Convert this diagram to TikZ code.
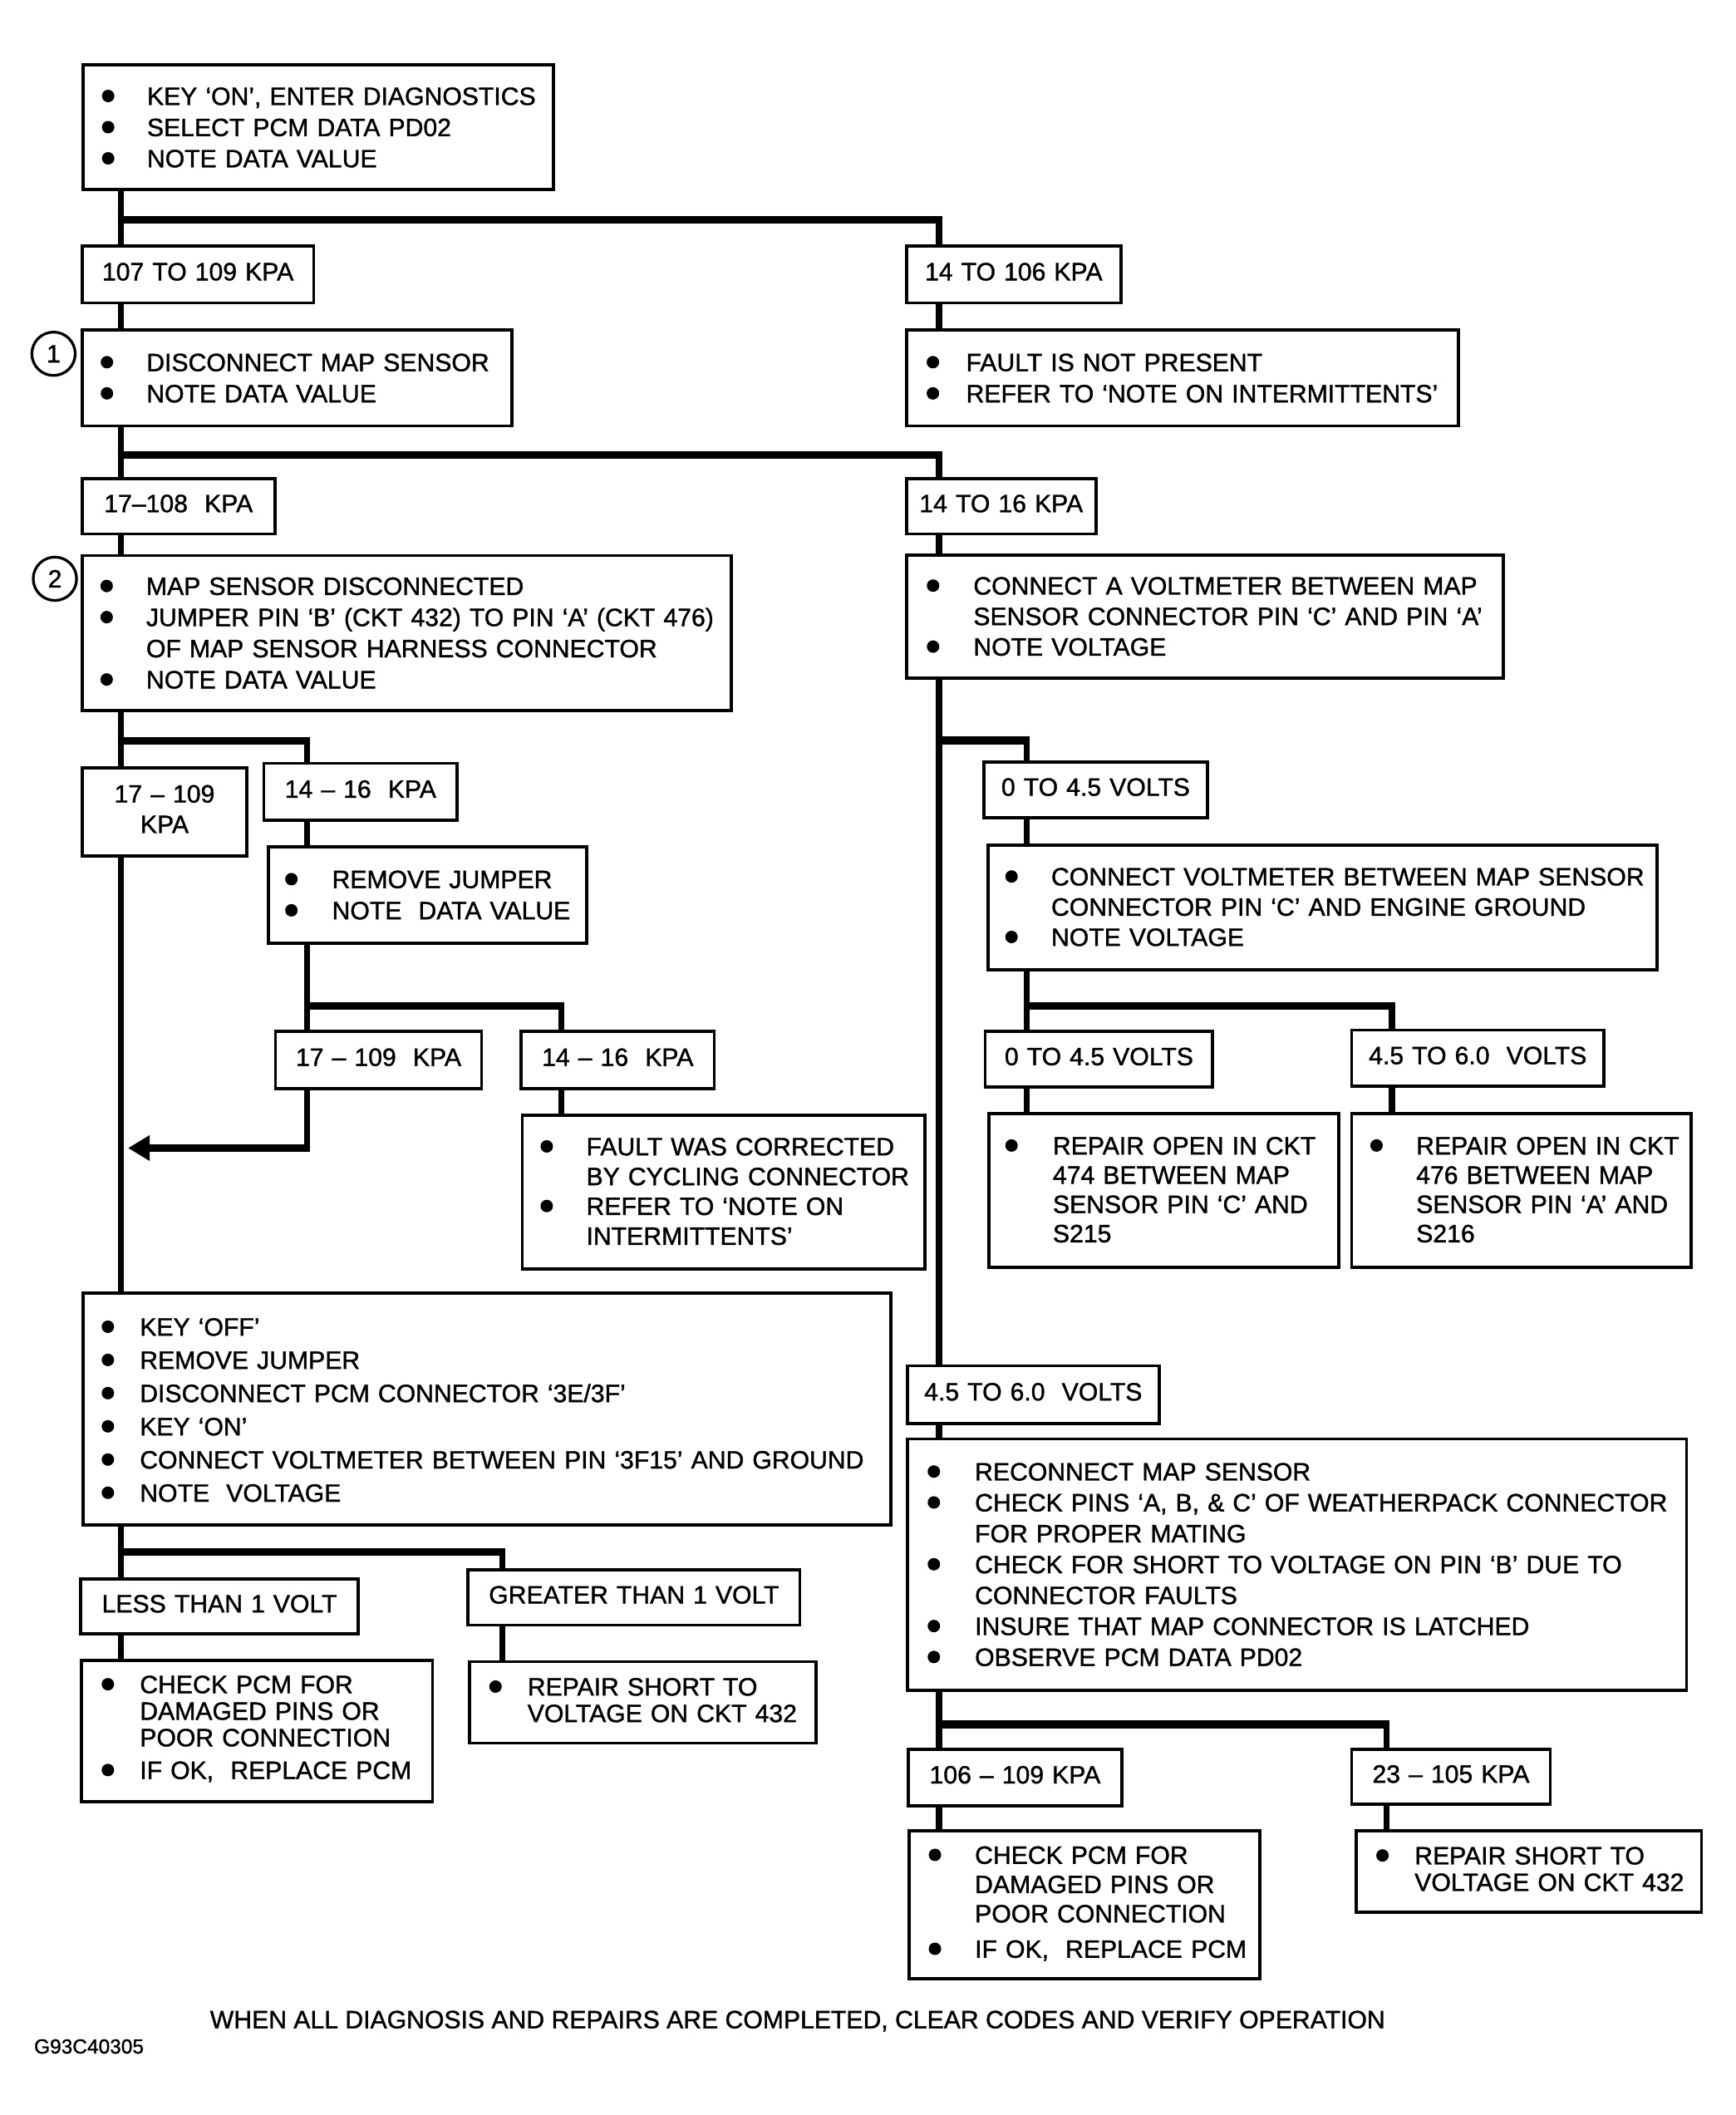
\documentclass[tikz,border=0pt]{standalone}
\usepackage{fontspec}
\setmainfont{Liberation Sans}[FakeBold=1.2]
\usetikzlibrary{arrows.meta}
\newlength\boff
\newlength\tind
\newcommand\mybul{\tikz[baseline=0pt]\fill (4.6pt,6.6pt) circle[radius=4.6pt];}
\newcommand\setb[2]{\setlength\boff{\dimexpr#1pt-4.6pt\relax}\setlength\tind{#2pt}}
\newcommand\bi[1]{\par\noindent\hangindent=\tind\hangafter=1\makebox[\tind][l]{\hspace*{\boff}\mybul}\mbox{#1}}
\newcommand\cl[1]{\newline\mbox{#1}}
\newcommand\fs[1]{\fontsize{18.5}{#1}\selectfont}
\newcommand\boxend{\par\vspace{10pt}\hrule height0pt width0pt}
\newcommand\labend{\par\vspace{4pt}\hrule height0pt width0pt}
\begin{document}
\begin{tikzpicture}[x=1pt,y=-1pt,
  box/.style={draw, line width=2.3pt, inner xsep=0pt, inner ysep=0pt, outer sep=0pt, anchor=north west, align=left, font=\fs{23},
    execute at end node=\boxend},
  lab/.style={draw, line width=2.3pt, inner xsep=0pt, inner ysep=0pt, outer sep=0pt, anchor=north west, align=center, font=\fs{22.5},
    execute at end node=\labend},
  vl/.style={line width=4.4pt},
  hb/.style={line width=5.6pt},
  num/.style={circle, draw, line width=2pt, minimum size=32pt, inner sep=0pt, font=\fs{20}}]
\path[fill=white] (0,0) rectangle (1280.2,1560.4);
\useasboundingbox (0,0) rectangle (1280.2,1560.4);

% ---------- boxes ----------
\node[box, text width=347pt, minimum height=92pt] (top) at (61.5,48)
  {\setb{18.3}{47}\bi{KEY ‘ON’, ENTER DIAGNOSTICS}\bi{SELECT PCM DATA PD02}\bi{NOTE DATA VALUE}\par};
\node[lab, text width=171pt, minimum height=42pt] (b107) at (60.5,181.5) {107 TO 109 KPA};
\node[lab, text width=158.4pt, minimum height=42pt] (b14106) at (668.7,181.5) {14 TO 106 KPA};
\node[box, text width=317pt, minimum height=70.6pt] (box1) at (60.5,243.6)
  {\setb{18.4}{47.6}\bi{DISCONNECT MAP SENSOR}\bi{NOTE DATA VALUE}\par};
\node[num] (c1) at (39.5,261) {1};
\node[box, text width=407.3pt, minimum height=70.6pt] (fault) at (668.7,243.6)
  {\setb{19.6}{44.1}\bi{FAULT IS NOT PRESENT}\bi{REFER TO ‘NOTE ON INTERMITTENTS’}\par};
\node[lab, text width=142.4pt, minimum height=41pt] (b17108) at (60.5,353) {17–108\ \ KPA};
\node[lab, text width=140pt, minimum height=41pt] (b1416) at (668.7,353) {14 TO 16 KPA};
\node[box, text width=479pt, minimum height=114.4pt] (box2) at (60.7,409.8)
  {\setb{18}{47.2}\bi{MAP SENSOR DISCONNECTED}\bi{JUMPER PIN ‘B’ (CKT 432) TO PIN ‘A’ (CKT 476)}\cl{OF MAP SENSOR HARNESS CONNECTOR}\bi{NOTE DATA VALUE}\par};
\node[num] (c2) at (40.5,427) {2};
\node[box, text width=440.3pt, minimum height=91pt, font=\fs{22.5}] (conn) at (669,409.5)
  {\setb{19.4}{49.2}\bi{CONNECT A VOLTMETER BETWEEN MAP}\cl{SENSOR CONNECTOR PIN ‘C’ AND PIN ‘A’}\bi{NOTE VOLTAGE}\par};
\node[lab, text width=121.4pt, minimum height=65pt] (b17109a) at (60.7,566.4) {17 – 109\\KPA};
\node[lab, text width=142.6pt, minimum height=42pt] (b1416a) at (194.7,563.2) {14 – 16\ \ KPA};
\node[box, text width=235pt, minimum height=71pt] (remj) at (197.9,624.8)
  {\setb{17.1}{47.1}\bi{REMOVE JUMPER}\bi{NOTE\ \ DATA VALUE}\par};
\node[lab, text width=152pt, minimum height=42pt] (b17109b) at (203.3,761) {17 – 109\ \ KPA};
\node[lab, text width=142.5pt, minimum height=42pt] (b1416b) at (384.5,761) {14 – 16\ \ KPA};
\node[box, text width=296.8pt, minimum height=113.7pt, font=\fs{22}] (fixed) at (385.4,822.6)
  {\setb{18}{47.2}\bi{FAULT WAS CORRECTED}\cl{BY CYCLING CONNECTOR}\bi{REFER TO ‘NOTE ON}\cl{INTERMITTENTS’}\par};
\node[lab, text width=164.7pt, minimum height=41pt] (v045a) at (726,562.2) {0 TO 4.5 VOLTS};
\node[box, text width=493.6pt, minimum height=91.6pt, font=\fs{22.3}] (cvm) at (728.8,623.7)
  {\setb{17.5}{46.8}\bi{CONNECT VOLTMETER BETWEEN MAP SENSOR}\cl{CONNECTOR PIN ‘C’ AND ENGINE GROUND}\bi{NOTE VOLTAGE}\par};
\node[lab, text width=167.8pt, minimum height=41pt] (v045b) at (726.9,761) {0 TO 4.5 VOLTS};
\node[lab, text width=186pt, minimum height=41.5pt] (v4560a) at (997.3,760) {4.5 TO 6.0\ \ VOLTS};
\node[box, text width=258pt, minimum height=113.6pt, font=\fs{21.6}] (r474) at (729.6,821.6)
  {\setb{16.7}{47.2}\bi{REPAIR OPEN IN CKT}\cl{474 BETWEEN MAP}\cl{SENSOR PIN ‘C’ AND}\cl{S215}\par};
\node[box, text width=250.5pt, minimum height=113.6pt, font=\fs{21.6}] (r476) at (997.3,821.6)
  {\setb{18.3}{47.6}\bi{REPAIR OPEN IN CKT}\cl{476 BETWEEN MAP}\cl{SENSOR PIN ‘A’ AND}\cl{S216}\par};
\node[box, text width=595.7pt, minimum height=171pt, font=\fs{24.5}] (keyoff) at (61.5,954)
  {\setb{18.1}{41.7}\bi{KEY ‘OFF’}\bi{REMOVE JUMPER}\bi{DISCONNECT PCM CONNECTOR ‘3E/3F’}\bi{KEY ‘ON’}\bi{CONNECT VOLTMETER BETWEEN PIN ‘3F15’ AND GROUND}\bi{NOTE\ \ VOLTAGE}\par};
\node[lab, text width=205pt, minimum height=40.4pt] (less) at (59.4,1165) {LESS THAN 1 VOLT};
\node[lab, text width=244.7pt, minimum height=40.5pt] (greater) at (345.4,1158.4) {GREATER THAN 1 VOLT};
\node[box, text width=259pt, minimum height=104pt, font=\fs{19.6}] (chk1) at (60.2,1225.2)
  {\setb{19.4}{43}\bi{CHECK PCM FOR}\cl{DAMAGED PINS OR}\cl{POOR CONNECTION}\par\vspace{4.5pt}\bi{IF OK,\ \ REPLACE PCM}\par};
\node[box, text width=256pt, minimum height=60pt, font=\fs{19.6}] (rs1) at (346.2,1226)
  {\setb{19.4}{43}\bi{REPAIR SHORT TO}\cl{VOLTAGE ON CKT 432}\par};
\node[lab, text width=186pt, minimum height=42.5pt] (v4560b) at (669.3,1007.6) {4.5 TO 6.0\ \ VOLTS};
\node[box, text width=575pt, minimum height=185.5pt, font=\fs{22.8}] (recon) at (669.3,1061.6)
  {\setb{19.7}{50}\bi{RECONNECT MAP SENSOR}\bi{CHECK PINS ‘A, B, \& C’ OF WEATHERPACK CONNECTOR}\cl{FOR PROPER MATING}\bi{CHECK FOR SHORT TO VOLTAGE ON PIN ‘B’ DUE TO}\cl{CONNECTOR FAULTS}\bi{INSURE THAT MAP CONNECTOR IS LATCHED}\bi{OBSERVE PCM DATA PD02}\par};
\node[lab, text width=157.6pt, minimum height=41.4pt] (k106) at (670.1,1290.7) {106 – 109 KPA};
\node[lab, text width=146.6pt, minimum height=40.3pt] (k23) at (997.2,1290.7) {23 – 105 KPA};
\node[box, text width=258.6pt, minimum height=109pt, font=\fs{21.6}] (chk2) at (670.8,1350.6)
  {\setb{19}{48.5}\bi{CHECK PCM FOR}\cl{DAMAGED PINS OR}\cl{POOR CONNECTION}\par\vspace{4.5pt}\bi{IF OK,\ \ REPLACE PCM}\par};
\node[box, text width=255pt, minimum height=60pt, font=\fs{19.6}] (rs2) at (1000.4,1350.6)
  {\setb{19.6}{43.3}\bi{REPAIR SHORT TO}\cl{VOLTAGE ON CKT 432}\par};

\node[anchor=base west, inner sep=0pt, font=\fs{22}] (foot) at (154.8,1496.4)
  {WHEN ALL DIAGNOSIS AND REPAIRS ARE COMPLETED, CLEAR CODES AND VERIFY OPERATION};
\node[anchor=base west, inner sep=0pt, font=\fontsize{15}{18}\selectfont] (code) at (25,1515) {G93C40305};

% ---------- junction coordinates ----------
\coordinate (L) at (89,0);
\coordinate (R) at (692.8,0);
\coordinate (j1) at (89,162.3);    \coordinate (j1r) at (692.8,162.3);
\coordinate (j2) at (89,335.6);    \coordinate (j2r) at (692.8,335.6);
\coordinate (j3) at (89,546.7);    \coordinate (j3r) at (226.5,546.7);
\coordinate (j4) at (226.5,742);   \coordinate (j4r) at (414.2,742);
\coordinate (ac) at (226.5,847);   \coordinate (at) at (94.5,847);
\coordinate (j5) at (692.8,546.3); \coordinate (j5r) at (757.3,546.3);
\coordinate (j6) at (757.3,742);   \coordinate (j6r) at (1027,742);
\coordinate (j7) at (89,1145);     \coordinate (j7r) at (370.8,1145);
\coordinate (j8) at (692.8,1272.2);\coordinate (j8r) at (1023.2,1272.2);

% ---------- left trunk ----------
\draw[vl] (top.south -| L) -- (b107.north -| L);
\draw[vl] (b107.south -| L) -- (box1.north -| L);
\draw[vl] (box1.south -| L) -- (b17108.north -| L);
\draw[vl] (b17108.south -| L) -- (box2.north -| L);
\draw[vl] (box2.south -| L) -- (b17109a.north -| L);
\draw[vl] (b17109a.south -| L) -- (keyoff.north -| L);
\draw[vl] (keyoff.south -| L) -- (less.north -| L);
\draw[vl] (less.south -| L) -- (chk1.north -| L);

% ---------- bars and branches ----------
\draw[hb] ([xshift=-2.2pt]j1) -- ([xshift=2.2pt]j1r);
\draw[vl] ([yshift=2.8pt]j1r) -- (b14106.north -| j1r);
\draw[vl] (b14106.south -| R) -- (fault.north -| R);

\draw[hb] ([xshift=-2.2pt]j2) -- ([xshift=2.2pt]j2r);
\draw[vl] ([yshift=2.8pt]j2r) -- (b1416.north -| j2r);
\draw[vl] (b1416.south -| R) -- (conn.north -| R);

\draw[hb] ([xshift=-2.2pt]j3) -- ([xshift=2.2pt]j3r);
\draw[vl] ([yshift=2.8pt]j3r) -- (b1416a.north -| j3r);
\draw[vl] (b1416a.south -| j3r) -- (remj.north -| j3r);
\draw[vl] (remj.south -| j4) -- (b17109b.north -| j4);
\draw[hb] ([xshift=-2.2pt]j4) -- ([xshift=2.2pt]j4r);
\draw[vl] ([yshift=2.8pt]j4r) -- (b1416b.north -| j4r);
\draw[vl] (b1416b.south -| j4r) -- (fixed.north -| j4r);
\draw[vl] (b17109b.south -| ac) -- ([yshift=-2.8pt]ac);
\draw[hb, -{Triangle[length=16pt,width=18pt]}] ([xshift=2.2pt]ac) -- (at);

% ---------- right trunk ----------
\draw[vl] (conn.south -| R) -- (v4560b.north -| R);
\draw[hb] ([xshift=-2.2pt]j5) -- ([xshift=2.2pt]j5r);
\draw[vl] ([yshift=2.8pt]j5r) -- (v045a.north -| j5r);
\draw[vl] (v045a.south -| j5r) -- (cvm.north -| j5r);
\draw[vl] (cvm.south -| j6) -- (v045b.north -| j6);
\draw[hb] ([xshift=-2.2pt]j6) -- ([xshift=2.2pt]j6r);
\draw[vl] ([yshift=2.8pt]j6r) -- (v4560a.north -| j6r);
\draw[vl] (v045b.south -| j6) -- (r474.north -| j6);
\draw[vl] (v4560a.south -| j6r) -- (r476.north -| j6r);

\draw[hb] ([xshift=-2.2pt]j7) -- ([xshift=2.2pt]j7r);
\draw[vl] ([yshift=2.8pt]j7r) -- (greater.north -| j7r);
\draw[vl] (greater.south -| j7r) -- (rs1.north -| j7r);

\draw[vl] (v4560b.south -| R) -- (recon.north -| R);
\draw[vl] (recon.south -| R) -- (k106.north -| R);
\draw[hb] ([xshift=-2.2pt]j8) -- ([xshift=2.2pt]j8r);
\draw[vl] ([yshift=2.8pt]j8r) -- (k23.north -| j8r);
\draw[vl] (k106.south -| R) -- (chk2.north -| R);
\draw[vl] (k23.south -| j8r) -- (rs2.north -| j8r);
\end{tikzpicture}
\end{document}
